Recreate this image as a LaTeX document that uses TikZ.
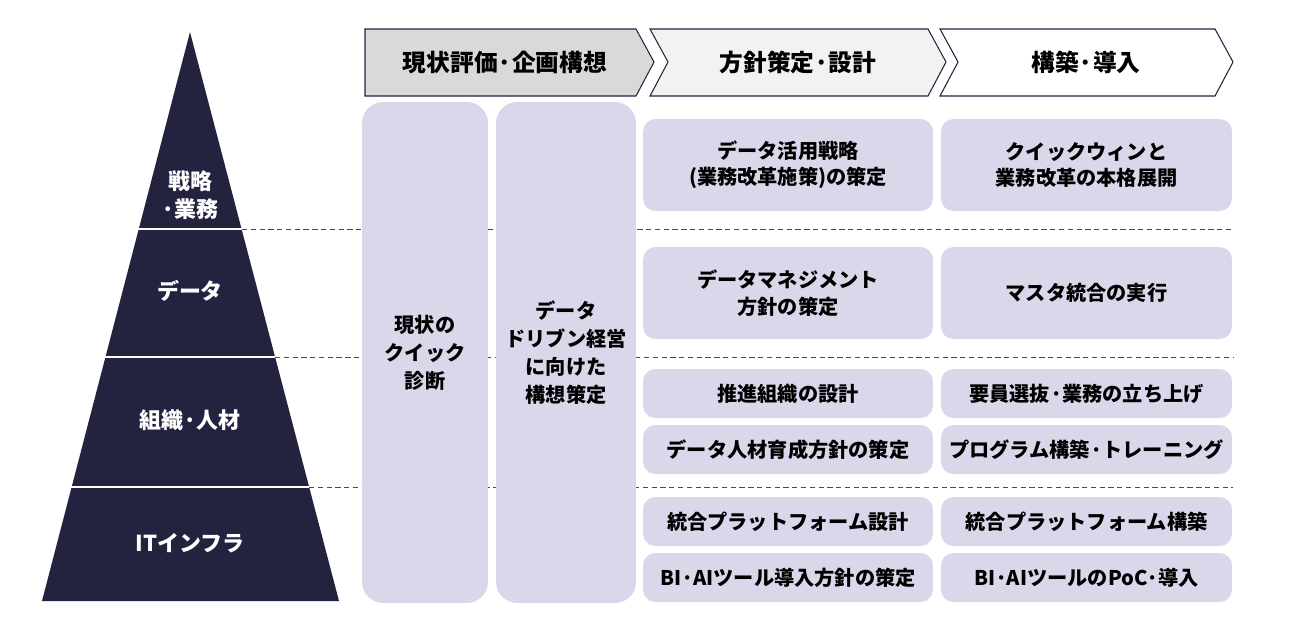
\documentclass[tikz,border=0pt]{standalone}
\usepackage{fontspec}
\setmainfont{Noto Sans CJK JP}
\usepackage{tikz}
\definecolor{navy}{RGB}{35,35,64}
\definecolor{lavender}{RGB}{217,216,234}
\definecolor{phasegray}{RGB}{217,217,217}
\definecolor{phaselight}{RGB}{242,242,242}
\tikzstyle{phase} = [draw=navy, line width=0.6pt]
\tikzstyle{phasetext} = [font=\bfseries\fontsize{13.5}{16}\selectfont]
\tikzstyle{tallbox} = [fill=lavender, rounded corners=12pt, inner sep=0, align=center, font=\bfseries\fontsize{11.5}{16}\selectfont]
\tikzstyle{cellbox} = [fill=lavender, rounded corners=7pt, inner sep=0, align=center, font=\bfseries\fontsize{11.5}{15}\selectfont]
\tikzstyle{layertext} = [text=white, align=center, font=\bfseries\fontsize{12.5}{16}\selectfont]
\tikzstyle{rowline} = [draw=black!70, line width=0.5pt, dash pattern=on 3pt off 2pt]

\begin{document}
\begin{tikzpicture}[x=0.02cm, y=-0.02cm]
      \useasboundingbox (0, 0) rectangle (1300, 630);

      % pyramid
      \fill[navy] (190, 32) -- (339, 601) -- (42, 601) -- cycle;
      \coordinate (div1l) at (138, 229);
      \coordinate (div1r) at (242, 229);
      \coordinate (div2l) at (105, 357);
      \coordinate (div2r) at (275, 357);
      \coordinate (div3l) at (71, 487);
      \coordinate (div3r) at (309, 487);
      \coordinate (end1) at (1233, 229);
      \coordinate (end2) at (1233, 357);
      \coordinate (end3) at (1233, 487);

      \draw[rowline] (div1r) -- (end1);
      \draw[rowline] (div2r) -- (end2);
      \draw[rowline] (div3r) -- (end3);
      \draw[white, line width=1.5pt] (div1l) -- (div1r);
      \draw[white, line width=1.5pt] (div2l) -- (div2r);
      \draw[white, line width=1.5pt] (div3l) -- (div3r);

      \node[layertext] (strategy) at (190, 195) {戦略\\·業務};
      \node[layertext] (data) at (190, 291) {データ};
      \node[layertext] (people) at (190, 420) {組織·人材};
      \node[layertext] (infra) at (190, 543) {ITインフラ};

      % phases
      \filldraw[phase, fill=phasegray] (365, 29) -- (636, 29) -- (654, 62) -- (636, 96) -- (365, 96) -- cycle;
      \filldraw[phase, fill=phaselight] (650, 29) -- (928, 29) -- (946, 62) -- (928, 96) -- (650, 96) -- (668, 62) -- cycle;
      \filldraw[phase, fill=white] (940, 29) -- (1215, 29) -- (1233, 62) -- (1215, 96) -- (940, 96) -- (958, 62) -- cycle;
      \node[phasetext] (assess) at (505, 62) {現状評価·企画構想};
      \node[phasetext] (policy) at (798, 62) {方針策定·設計};
      \node[phasetext] (build) at (1086, 62) {構築·導入};

      % first phase columns
      \node[tallbox, minimum width=2.52cm, minimum height=10.02cm] (quick) at (425, 352.5) {現状の\\クイック\\診断};
      \node[tallbox, minimum width=2.8cm, minimum height=10.02cm] (vision) at (566, 352.5) {データ\\ドリブン経営\\に向けた\\構想策定};

      % design and build cells
      \node[cellbox, minimum width=5.8cm, minimum height=1.84cm] (stratplan) at (788, 165) {データ活用戦略\\(業務改革施策)の策定};
      \node[cellbox, minimum width=5.82cm, minimum height=1.84cm] (stratrun) at (1086.5, 165) {クイックウィンと\\業務改革の本格展開};
      \node[cellbox, minimum width=5.8cm, minimum height=1.84cm] (dataplan) at (788, 293) {データマネジメント\\方針の策定};
      \node[cellbox, minimum width=5.82cm, minimum height=1.84cm] (datarun) at (1086.5, 293) {マスタ統合の実行};
      \node[cellbox, minimum width=5.8cm, minimum height=0.98cm] (orgplan) at (788, 393.5) {推進組織の設計};
      \node[cellbox, minimum width=5.82cm, minimum height=0.98cm] (orgrun) at (1086.5, 393.5) {要員選抜·業務の立ち上げ};
      \node[cellbox, minimum width=5.8cm, minimum height=0.98cm] (talentplan) at (788, 449.5) {データ人材育成方針の策定};
      \node[cellbox, minimum width=5.82cm, minimum height=0.98cm] (talentrun) at (1086.5, 449.5) {プログラム構築·トレーニング};
      \node[cellbox, minimum width=5.8cm, minimum height=0.98cm] (platplan) at (788, 521.5) {統合プラットフォーム設計};
      \node[cellbox, minimum width=5.82cm, minimum height=0.98cm] (platrun) at (1086.5, 521.5) {統合プラットフォーム構築};
      \node[cellbox, minimum width=5.8cm, minimum height=0.98cm] (toolplan) at (788, 577.5) {BI·AIツール導入方針の策定};
      \node[cellbox, minimum width=5.82cm, minimum height=0.98cm] (toolrun) at (1086.5, 577.5) {BI·AIツールのPoC·導入};
\end{tikzpicture}
\end{document}
